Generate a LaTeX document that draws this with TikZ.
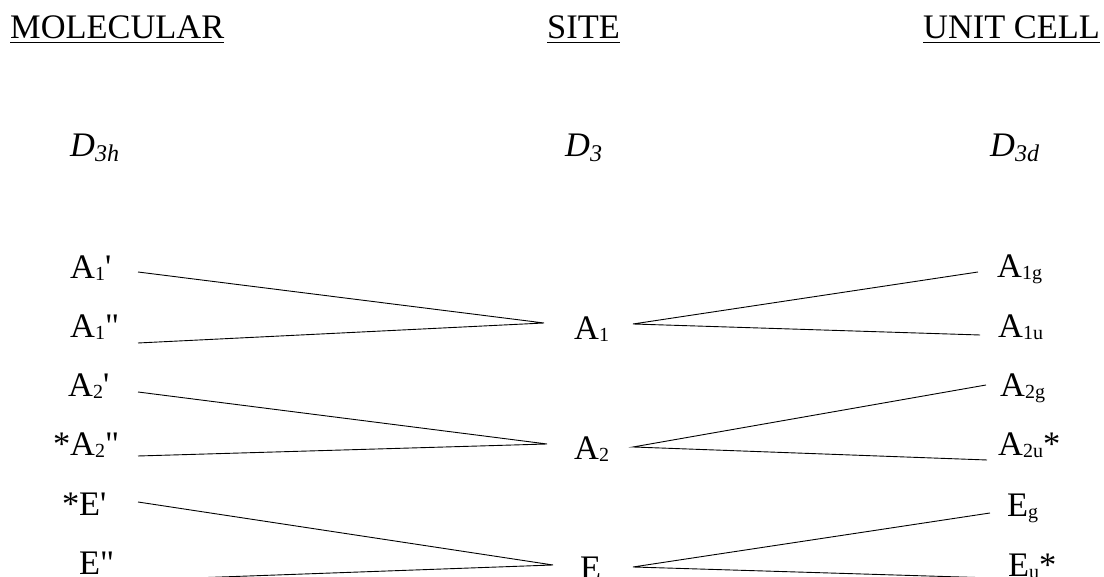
\documentclass[tikz,border=0pt]{standalone}
\usepackage{fontspec}
\setmainfont{Liberation Serif}[Ligatures=TeXOff]
\newcommand\rsub[1]{\raisebox{-2pt}{\fontsize{20}{20}\selectfont #1}}
\newcommand\isub[1]{\raisebox{-5pt}{\fontsize{24}{24}\selectfont\itshape #1}}
\newcommand\pr{\char"0027}
\newcommand\dpr{\char"0022}
\begin{document}
\begin{tikzpicture}[x=1pt,y=1pt,
  lbl/.style={anchor=base west,inner sep=0pt,font=\fontsize{34.4}{40}\selectfont},
  conn/.style={line width=0.9pt}]
\useasboundingbox (0,0) rectangle (1104,577);
\begin{scope}
\clip (0,0) rectangle (1104,577);
% headers
\node[lbl] (mol) at (10,538) {MOLECULAR};
\node[lbl] (site) at (547,538) {SITE};
\node[lbl] (unit) at (923,538) {UNIT CELL};
\foreach \n in {mol,site,unit}
  \draw[line width=1.5pt] ([yshift=-3.5pt]\n.base west) -- ([yshift=-3.5pt]\n.base east);
% groups
\node[lbl] (gmol) at (70,420) {\itshape D\isub{3h}};
\node[lbl] (gsite) at (565,420) {\itshape D\isub{3}};
\node[lbl] (gunit) at (990,420) {\itshape D\isub{3d}};
% molecular
\node[lbl] (m1) at (70,298) {A\rsub{1}\pr};
\node[lbl] (m2) at (70,239) {A\rsub{1}\dpr};
\node[lbl] (m3) at (68,180) {A\rsub{2}\pr};
\node[lbl] (m4) at (70,121) {\llap{*}A\rsub{2}\dpr};
\node[lbl] (m5) at (79,61) {\llap{*}E\pr};
\node[lbl] (m6) at (79,2) {E\dpr};
% site
\node[lbl] (s1) at (574,237) {A\rsub{1}};
\node[lbl] (s2) at (574,117) {A\rsub{2}};
\node[lbl] (s3) at (580,-3) {E};
% unit cell
\node[lbl] (u1) at (997,299) {A\rsub{1g}};
\node[lbl] (u2) at (998,239) {A\rsub{1u}};
\node[lbl] (u3) at (1000,180) {A\rsub{2g}};
\node[lbl] (u4) at (998,121) {A\rsub{2u}*};
\node[lbl] (u5) at (1007,60) {E\rsub{g}};
\node[lbl] (u6) at (1008,0) {E\rsub{u}*};
% connector end points
\coordinate (ml1) at (138,305);
\coordinate (ml2) at (138,234);
\coordinate (ml3) at (138,185);
\coordinate (ml4) at (138,121);
\coordinate (ml5) at (138,75);
\coordinate (ml6) at (138,-3);
\coordinate (sl1) at (544,254);
\coordinate (sl2) at (547,133);
\coordinate (sl3) at (553,12);
\coordinate (sr1) at (633,253);
\coordinate (sr2) at (633,130);
\coordinate (sr3) at (633,10);
\coordinate (ur1) at (978,305);
\coordinate (ur2) at (980,242);
\coordinate (ur3) at (986,192);
\coordinate (ur4) at (987,117);
\coordinate (ur5) at (990,64);
\coordinate (ur6) at (993,-1);
\draw[conn] (ml1) -- (sl1) -- (ml2);
\draw[conn] (ml3) -- (sl2) -- (ml4);
\draw[conn] (ml5) -- (sl3) -- (ml6);
\draw[conn] (ur1) -- (sr1) -- (ur2);
\draw[conn] (ur3) -- (sr2) -- (ur4);
\draw[conn] (ur5) -- (sr3) -- (ur6);
\end{scope}
\end{tikzpicture}
\end{document}
